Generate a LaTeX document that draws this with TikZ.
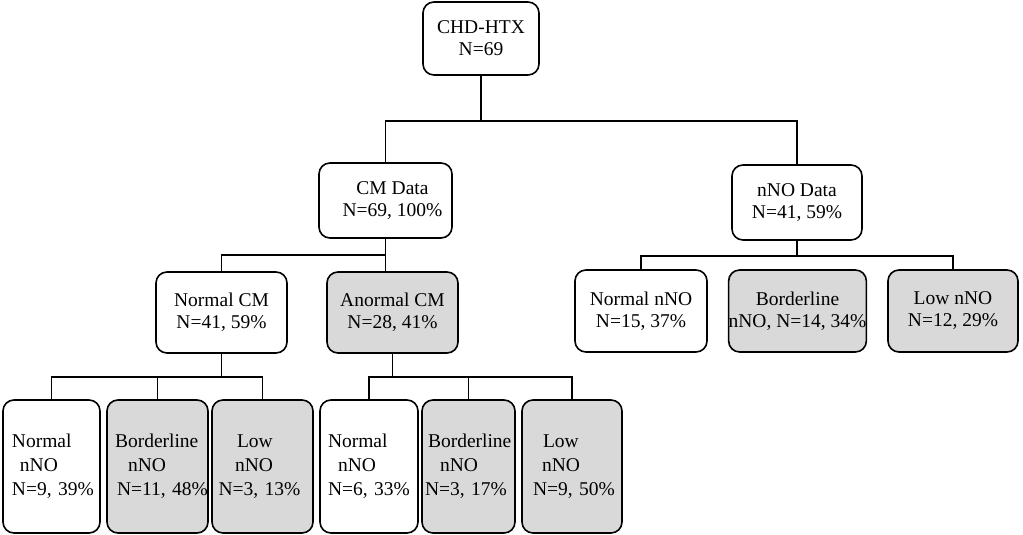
\documentclass[tikz,border=0pt]{standalone}
\usepackage{fontspec}
\setmainfont{Liberation Serif}
\usetikzlibrary{positioning}
\definecolor{boxgray}{RGB}{217,217,217}

\begin{document}
\begin{tikzpicture}[
	x=1pt, y=-1pt, line width=1.2pt,
	font=\fontsize{19.5}{22}\selectfont,
	rbox/.style={draw, rounded corners=11pt, line width=1.6pt, align=center, inner sep=0pt},
	greyfill/.style={fill=boxgray},
	leaf/.style={rbox, text width=88pt, align=left, minimum height=133pt, font=\fontsize{19.5}{24}\selectfont}
	]
	\useasboundingbox (0,0) rectangle (1023,535);
	% top levels
	\node [rbox,minimum width=116pt,minimum height=73pt] (chd) at (481,38.5) {CHD-HTX\\N=69};
	\node [rbox,minimum width=133pt,minimum height=75pt] (cmdata) at (385.5,200.5) {\hspace*{14pt}CM Data\\\hspace*{14pt}N=69, 100\%};
	\node [rbox,minimum width=130pt,minimum height=75pt] (nnodata) at (797,202.5) {nNO Data\\N=41, 59\%};
	\node [rbox,minimum width=131pt,minimum height=81pt] (normcm) at (221.5,312.5) {Normal CM\\N=41, 59\%};
	\node [rbox,greyfill,minimum width=131pt,minimum height=81pt] (anormcm) at (392.5,312.5) {Anormal CM\\N=28, 41\%};
	\node [rbox,minimum width=132pt,minimum height=82pt] (rnormal) at (641,311) {Normal nNO\\N=15, 37\%};
	\node [rbox,greyfill,minimum width=131pt,minimum height=82pt] (rborder) at (797.5,311) {Borderline\\nNO, N=14, 34\%};
	\node [rbox,greyfill,minimum width=130pt,minimum height=82pt] (rlow) at (953,311) {Low nNO\\N=12, 29\%};
	% bottom row
	\node [leaf,minimum width=97pt] (b1) at (51.5,466.5) {\hspace*{4.5pt}Normal\\\hspace*{12.5pt}nNO\\\hspace*{4.5pt}N=9,~39\%};
	\node [leaf,greyfill,minimum width=101pt] (b2) at (157.5,466.5) {\hspace*{1.5pt}Borderline\\\hspace*{14.5pt}nNO\\\hspace*{3.5pt}N=11,~48\%};
	\node [leaf,greyfill,minimum width=101pt] (b3) at (262.5,466.5) {\hspace*{18.5pt}Low\\\hspace*{16.5pt}nNO\\N=3,~13\%};
	\node [leaf,minimum width=98pt] (b4) at (369,466.5) {\hspace*{3pt}Normal\\\hspace*{13pt}nNO\\\hspace*{3pt}N=6,~33\%};
	\node [leaf,greyfill,minimum width=93pt] (b5) at (468.5,466.5) {\hspace*{3.5pt}Borderline\\\hspace*{15.5pt}nNO\\\hspace*{0.5pt}N=3,~17\%};
	\node [leaf,greyfill,minimum width=100pt] (b6) at (572,466.5) {\hspace*{15pt}Low\\\hspace*{14pt}nNO\\\hspace*{5pt}N=9,~50\%};
	% connectors
	\coordinate (f1) at (481,121);
	\coordinate (f2) at (385.5,255);
	\coordinate (f3) at (797,256);
	\coordinate (f4) at (221.5,377);
	\coordinate (f5) at (392.5,377);
	\draw (chd) -- (f1);
	\draw (cmdata.north) |- (f1) -| (nnodata.north);
	\draw (cmdata.south) -- (f2) -- (f2 |- anormcm.north);
	\draw (f2) -| (normcm.north);
	\draw (nnodata) -- (f3);
	\draw (rnormal.north) |- (f3) -| (rlow.north);
	\draw (normcm) -- (f4);
	\draw (b1.north) |- (f4) -| (b3.north);
	\draw (f4 -| b2.north) -- (b2.north);
	\draw (anormcm) -- (f5);
	\draw (b4.north) |- (f5) -| (b6.north);
	\draw (f5 -| b5.north) -- (b5.north);
\end{tikzpicture}
\end{document}
